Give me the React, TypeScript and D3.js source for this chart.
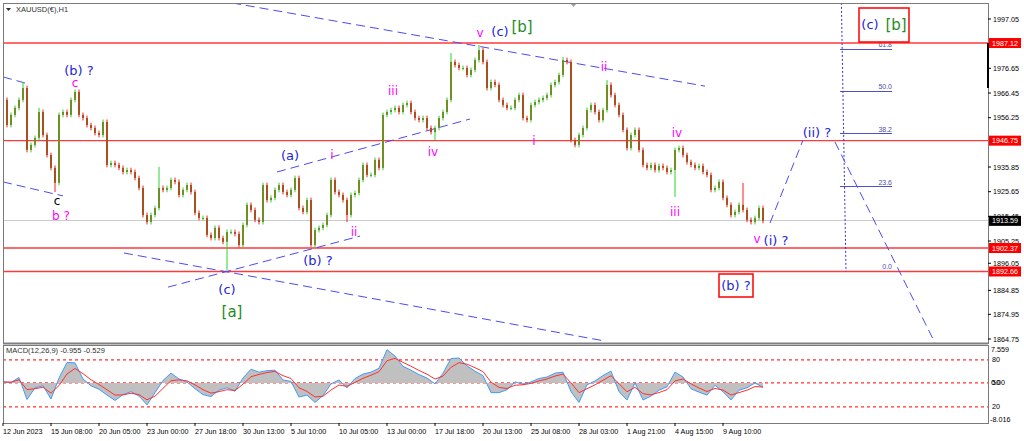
import React from "react";
import * as d3 from "d3";

// XAUUSD H1 closes, one bar per ~6.7 hours (12 bars per axis label)
const closes = [
  1963.6, 1953.2, 1957.4, 1960.3, 1963.6, 1968.5, 1942.9, 1945.0, 1947.9, 1958.6,
  1949.1, 1940.8, 1935.5, 1929.3, 1957.4, 1958.6, 1957.4, 1963.6, 1966.9, 1957.4,
  1956.1, 1953.2, 1952.0, 1949.9, 1949.1, 1954.5, 1936.7, 1937.5, 1936.7, 1935.5,
  1933.8, 1934.6, 1933.8, 1931.3, 1927.2, 1916.0, 1913.1, 1916.0, 1918.9, 1927.2,
  1926.4, 1927.2, 1930.5, 1929.7, 1924.3, 1926.4, 1928.4, 1925.5, 1916.9, 1914.8,
  1914.8, 1907.8, 1906.5, 1910.7, 1906.5, 1904.9, 1909.0, 1909.0, 1908.2, 1903.6,
  1911.9, 1920.2, 1918.1, 1914.0, 1913.1, 1928.4, 1922.2, 1923.1, 1926.4, 1928.4,
  1925.5, 1924.3, 1926.4, 1931.3, 1918.9, 1917.3, 1922.2, 1903.6, 1909.8, 1910.7,
  1911.9, 1916.0, 1930.5, 1925.5, 1924.3, 1922.2, 1916.0, 1924.3, 1925.1, 1930.5,
  1936.7, 1932.6, 1932.6, 1938.8, 1935.5, 1957.4, 1958.6, 1959.4, 1960.3, 1958.6,
  1961.5, 1962.3, 1958.6, 1956.1, 1955.3, 1956.1, 1952.0, 1950.3, 1952.0, 1956.1,
  1958.6, 1963.6, 1979.3, 1978.0, 1976.8, 1976.8, 1973.9, 1976.0, 1980.1, 1984.2,
  1979.3, 1968.5, 1971.0, 1969.8, 1963.6, 1961.5, 1960.3, 1960.3, 1963.6, 1965.6,
  1956.1, 1955.3, 1961.5, 1962.7, 1963.6, 1964.4, 1965.6, 1969.8, 1971.0, 1973.9,
  1980.1, 1979.3, 1947.0, 1945.0, 1949.1, 1952.0, 1959.4, 1961.5, 1958.6, 1955.3,
  1959.4, 1969.8, 1965.6, 1961.5, 1957.4, 1951.2, 1943.7, 1949.1, 1951.2, 1942.9,
  1936.7, 1935.5, 1936.7, 1934.6, 1936.3, 1935.5, 1933.8, 1934.6, 1942.9, 1943.7,
  1940.8, 1937.9, 1936.7, 1935.5, 1936.3, 1933.8, 1932.6, 1926.4, 1927.2, 1929.7,
  1923.1, 1920.2, 1916.0, 1917.3, 1920.2, 1918.1, 1914.0, 1913.1, 1914.8, 1918.9,
  1913.59,
];

// long wicks that stick out of the normal candle range
const wickExtremes = [
  { i: 5, high: 1971.0 },
  { i: 9, high: 1960.3 },
  { i: 13, low: 1925.5 },
  { i: 39, high: 1935.9 },
  { i: 56, low: 1893.2 },
  { i: 77, low: 1902.8 },
  { i: 86, low: 1913.1 },
  { i: 108, low: 1947.0 },
  { i: 112, high: 1983.0 },
  { i: 119, high: 1986.3 },
  { i: 140, high: 1981.3 },
  { i: 151, high: 1971.8 },
  { i: 168, low: 1923.5 },
  { i: 185, high: 1929.3 },
];

const timeLabels = [
  "12 Jun 2023", "15 Jun 08:00", "20 Jun 05:00", "23 Jun 00:00", "27 Jun 18:00",
  "30 Jun 13:00", "5 Jul 10:00", "10 Jul 05:00", "13 Jul 00:00", "17 Jul 18:00",
  "20 Jul 13:00", "25 Jul 08:00", "28 Jul 03:00", "1 Aug 21:00", "4 Aug 15:00",
  "9 Aug 10:00",
];
const barsPerLabel = 12;

const priceTicks = [
  1997.05, 1976.65, 1966.45, 1956.25, 1935.85, 1925.65, 1915.45, 1905.25,
  1896.05, 1884.85, 1874.95, 1864.75,
];
const levelLines = [1987.12, 1946.75, 1902.37, 1892.66];
const lastPrice = 1913.59;

const fibLevels = [0, 23.6, 38.2, 50.0, 61.8];
const fibBase = 1892.66;
const fibTop = 2041.5;

// trendlines as [barIndex, price] pairs
const trendLines = [
  [[57.25, 2003.7], [175.5, 1969.3]],
  [[0, 1973.1], [5.5, 1970.6]],
  [[0, 1929.7], [15, 1923.9]],
  [[30.25, 1900.3], [150.5, 1863.9]],
  [[41.25, 1886.2], [89.25, 1907.3]],
  [[68.5, 1933.8], [116.75, 1955.7]],
  [[191.75, 1912.7], [200, 1947.0]],
  [[208, 1946.2], [233, 1863.1]],
];

// MACD main, one value every 2 bars
const macdMain = [
  0.2, 0.1, 1.1, -3.4, -1.0, -0.6, -3.3, 1.0, 4.2, 4.1,
  0.8, -0.6, -1.3, -2.5, -3.6, -2.4, -1.8, -2.7, -4.5, -2.0,
  0.5, 2.0, 0.8, 0.2, -1.2, -2.4, -2.8, -1.5, -1.0, -1.7,
  1.0, 2.8, 2.2, 2.5, 2.6, 0.6, 0.3, -2.9, -2.5, -4.0,
  -2.6, -0.2, 0.6, -1.0, 0.9, 1.8, 2.2, 3.0, 6.8, 5.5,
  3.4, 2.6, 1.7, 1.0, -0.2, 2.0, 5.0, 5.1, 3.5, 2.4,
  1.5, -2.0, -2.0, -1.4, 0.2, -0.3, 0.2, 0.9, 1.2, 2.0,
  2.2, -1.8, -4.0, -0.4, 0.4, 1.5, 2.4, -1.8, -3.5, 0.0,
  -3.5, -2.7, -1.5, -0.8, 2.2, 1.2, -1.2, -1.9, -2.5, -0.5,
  -1.8, -3.5, -1.5, -1.0, 0.0, -0.955,
];
const macdLevels = [4.7, 0, -4.9];
const macdLevelLabels = ["80", "50", "20"];

const BLUE = "#2323e0";
const DASH_BLUE = "#4b4bf5";
const MAGENTA = "#ff00ff";
const GREEN = "#1e8c1e";
const AXIS_FONT = "'Liberation Sans', Arial, sans-serif";
const LABEL_FONT = "'DejaVu Sans', Verdana, sans-serif";

const labels = [
  { t: "(b) ?", x: 79, y: 75, c: BLUE, s: 13 },
  { t: "c", x: 75, y: 87, c: MAGENTA, s: 12 },
  { t: "c", x: 57, y: 205, c: "#000", s: 12 },
  { t: "b ?", x: 61, y: 220, c: MAGENTA, s: 12 },
  { t: "(a)", x: 290, y: 160, c: BLUE, s: 13 },
  { t: "i", x: 332, y: 159, c: MAGENTA, s: 12 },
  { t: "ii", x: 354, y: 236, c: MAGENTA, s: 12 },
  { t: "(b) ?", x: 318, y: 265, c: BLUE, s: 13 },
  { t: "(c)", x: 227, y: 294, c: BLUE, s: 13 },
  { t: "[a]", x: 232, y: 317, c: GREEN, s: 15 },
  { t: "iii", x: 393, y: 95, c: MAGENTA, s: 12 },
  { t: "iv", x: 433, y: 156, c: MAGENTA, s: 12 },
  { t: "v", x: 480, y: 37, c: MAGENTA, s: 12 },
  { t: "(c)", x: 500, y: 36, c: BLUE, s: 13 },
  { t: "[b]", x: 522, y: 32, c: GREEN, s: 15 },
  { t: "i", x: 534, y: 145, c: MAGENTA, s: 12 },
  { t: "ii", x: 604, y: 71, c: MAGENTA, s: 12 },
  { t: "iv", x: 677, y: 137, c: MAGENTA, s: 12 },
  { t: "iii", x: 675, y: 216, c: MAGENTA, s: 12 },
  { t: "v", x: 757, y: 243, c: MAGENTA, s: 12 },
  { t: "(i) ?", x: 776, y: 245, c: BLUE, s: 13 },
  { t: "(ii) ?", x: 817, y: 137, c: BLUE, s: 13 },
  { t: "(b) ?", x: 736, y: 290, c: BLUE, s: 13 },
  { t: "(c)", x: 870, y: 29, c: BLUE, s: 13 },
  { t: "[b]", x: 896, y: 30, c: GREEN, s: 15 },
];

const App = () => {
  const left = 3, right = 988, top = 3, mainBottom = 343;
  const macdTop = 345, macdBottom = 423;

  const x = d3.scaleLinear().domain([0, 246.25]).range([left, right]);
  const y = d3.scaleLinear().domain([1864.75, 1997.05]).range([339, 19]);
  const ym = d3.scaleLinear().domain([-8.016, 7.559]).range([422, 346]);
  const fibY = (lvl: number) => y(fibBase + (fibTop - fibBase) * lvl / 100);
  const snap = (v: number) => Math.floor(v) + 0.5;

  const candles = closes.map((c, i) => {
    const o = i ? closes[i - 1] : c;
    const ext = wickExtremes.find((w) => w.i === i);
    const hi = ext && ext.high !== undefined ? ext.high : Math.max(o, c) + 1.0;
    const lo = ext && ext.low !== undefined ? ext.low : Math.min(o, c) - 1.0;
    return { i, o, c, hi, lo, up: c >= o };
  });

  let s = macdMain[0];
  const signal = macdMain.map((v) => (s = s + 0.5 * (v - s)));
  const mx = (k: number) => x(k * 2);
  const area = d3.area<number>().x((_, k) => mx(k)).y0(ym(0)).y1((v) => ym(v));
  const mline = d3.line<number>().x((_, k) => mx(k)).y((v) => ym(v));

  return (
    <svg width={1024} height={441} style={{ display: "block", position: "absolute", left: 0, top: 0 }}>
      <defs>
        <clipPath id="mainClip">
          <rect x={left} y={top} width={right - left} height={mainBottom - top} />
        </clipPath>
      </defs>
      <rect x={0} y={0} width={1024} height={441} fill="#fff" />

      <g clipPath="url(#mainClip)">
        <line x1={left} x2={right} y1={snap(y(lastPrice))} y2={snap(y(lastPrice))} stroke="#cccccc" />
        {fibLevels.map((l) => (
          <g key={"f" + l}>
            <line x1={x(209.25)} x2={x(222.25)} y1={snap(fibY(l))} y2={snap(fibY(l))} stroke="#5050c8" />
            <text x={x(222.25)} y={fibY(l) - 2} fontSize={7} textAnchor="end" fill="#5050a0" fontFamily={AXIS_FONT}>
              {l.toFixed(1)}
            </text>
          </g>
        ))}
        {levelLines.map((p) => (
          <line key={"l" + p} x1={left} x2={right} y1={y(p)} y2={y(p)} stroke="#ff3a3a" strokeWidth={1.3} />
        ))}
        <line x1={x(209.6)} x2={x(210.75)} y1={y(2003.7)} y2={y(1892.66)} stroke="#3030e8" strokeDasharray="2,2" />
        {trendLines.map((t, k) => (
          <line key={"t" + k} x1={x(t[0][0])} y1={y(t[0][1])} x2={x(t[1][0])} y2={y(t[1][1])}
            stroke={DASH_BLUE} strokeWidth={1} strokeDasharray="9,5" />
        ))}
        {candles.map((d) => (
          <g key={"c" + d.i}>
            <line x1={x(d.i)} x2={x(d.i)} y1={y(d.hi)} y2={y(d.lo)} stroke={d.up ? "#2ad42a" : "#ff2020"} />
            <rect x={x(d.i) - 1} width={2} y={y(Math.max(d.o, d.c))}
              height={Math.max(1, Math.abs(y(d.o) - y(d.c)))} fill={d.up ? "#6f8f22" : "#a8501e"} />
          </g>
        ))}
      </g>

      {labels.map((l, k) => (
        <text key={"a" + k} x={l.x} y={l.y} fill={l.c} fontSize={l.s} textAnchor="middle" fontFamily={LABEL_FONT}>
          {l.t}
        </text>
      ))}
      <rect x={719} y={274} width={34} height={23} fill="none" stroke="#ff0000" strokeWidth={1.5} />
      <rect x={859} y={8} width={50} height={34} fill="none" stroke="#ff0000" strokeWidth={1.5} />

      <text x={16} y={12} fontSize={7.5} fill="#303030" fontFamily={AXIS_FONT}>XAUUSD(€),H1</text>
      <path d="M6,8 L11,8 L8.5,11 Z" fill="#303030" />
      <path d="M570,3 L577,3 L573.5,7 Z" fill="#a0a0a0" />

      {/* MACD panel */}
      {macdLevels.map((v) => (
        <line key={"m" + v} x1={left} x2={right} y1={ym(v)} y2={ym(v)} stroke="#ff3030" strokeWidth={1.2} strokeDasharray="3,3" />
      ))}
      <path d={area(macdMain) || ""} fill="#c0c0c0" />
      <path d={mline(macdMain) || ""} fill="none" stroke="#3c9cff" strokeWidth={1} />
      <path d={mline(signal) || ""} fill="none" stroke="#ff3030" strokeWidth={1} />
      <text x={6} y={353} fontSize={7.5} fill="#303030" fontFamily={AXIS_FONT}>MACD(12,26,9) -0.955 -0.529</text>

      {/* frames */}
      <rect x={left + 0.5} y={top + 0.5} width={right - left} height={mainBottom - top} fill="none" stroke="#7a7a7a" />
      <line x1={left} x2={right} y1={mainBottom + 0.5} y2={mainBottom + 0.5} stroke="#808080" strokeWidth={2} />
      <rect x={left + 0.5} y={macdTop + 0.5} width={right - left} height={macdBottom - macdTop} fill="none" stroke="#7a7a7a" />
      <line x1={right} x2={right} y1={43} y2={88} stroke="#000" strokeWidth={2} />

      {/* price axis */}
      {priceTicks.map((p) => (
        <g key={"p" + p}>
          <line x1={right} x2={right + 3} y1={y(p)} y2={y(p)} stroke="#000" />
          <text x={993} y={y(p) + 2.5} fontSize={7.2} fill="#000" fontFamily={AXIS_FONT}>{p.toFixed(2)}</text>
        </g>
      ))}
      {levelLines.map((p) => (
        <g key={"r" + p}>
          <rect x={989} y={y(p) - 5} width={32} height={10} fill="#ff0000" />
          <text x={992} y={y(p) + 2.5} fontSize={7.2} fill="#fff" fontFamily={AXIS_FONT}>{p.toFixed(2)}</text>
        </g>
      ))}
      <rect x={989} y={y(lastPrice) - 5} width={32} height={10} fill="#000" />
      <text x={992} y={y(lastPrice) + 2.5} fontSize={7.2} fill="#fff" fontFamily={AXIS_FONT}>{lastPrice.toFixed(2)}</text>

      {/* MACD axis */}
      <text x={991} y={352} fontSize={7.2} fill="#000" fontFamily={AXIS_FONT}>7.559</text>
      {macdLevels.map((v, k) => (
        <text key={"ml" + k} x={992} y={ym(v) + 2.5} fontSize={7.2} fill="#000" fontFamily={AXIS_FONT}>{macdLevelLabels[k]}</text>
      ))}
      <text x={991} y={ym(0) + 2.5} fontSize={7.2} fill="#000" fontFamily={AXIS_FONT}>0.00</text>
      <text x={990} y={422} fontSize={7.2} fill="#000" fontFamily={AXIS_FONT}>-8.016</text>

      {/* time axis */}
      {timeLabels.map((t, k) => (
        <g key={"x" + k}>
          <line x1={x(k * barsPerLabel)} x2={x(k * barsPerLabel)} y1={macdBottom} y2={macdBottom + 3} stroke="#000" />
          <text x={x(k * barsPerLabel)} y={434} fontSize={7.2} fill="#000" fontFamily={AXIS_FONT}>{t}</text>
        </g>
      ))}
    </svg>
  );
};

export default App;
